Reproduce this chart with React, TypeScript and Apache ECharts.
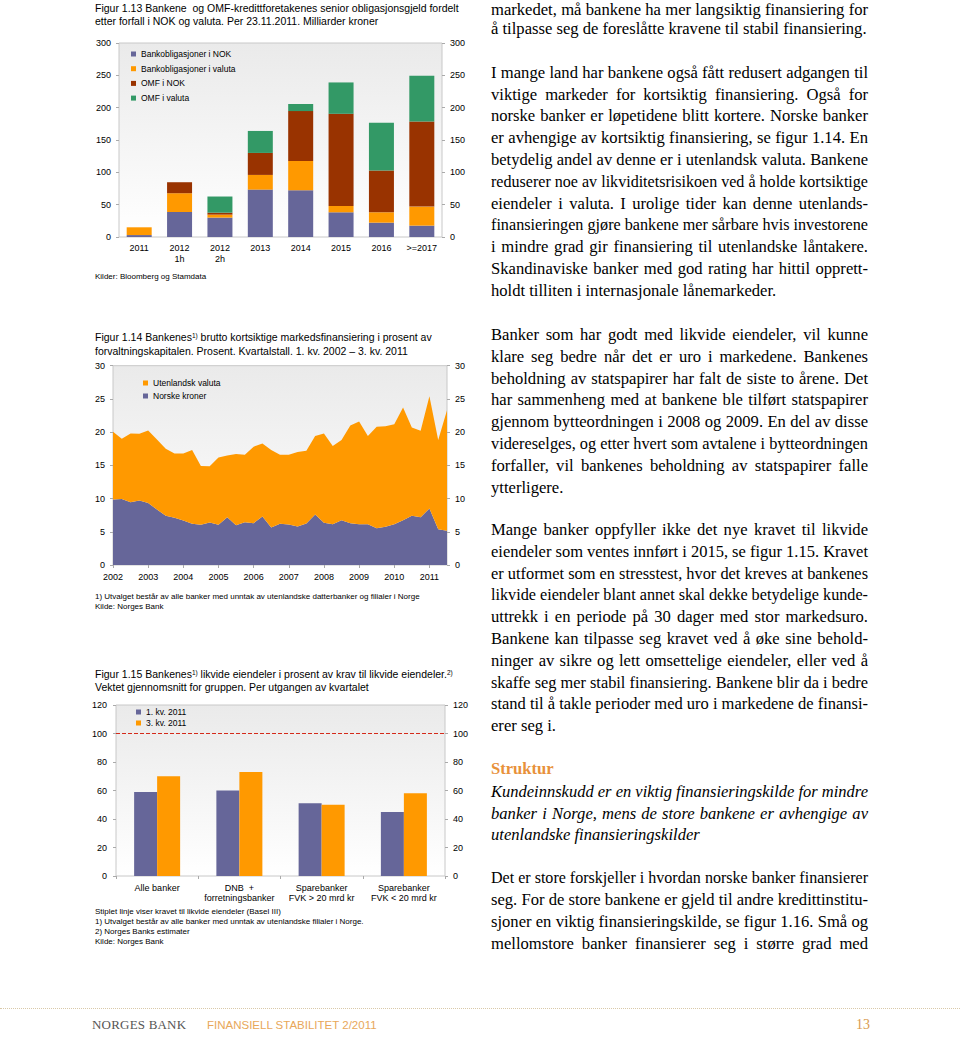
import React, { useEffect, useLayoutEffect, useRef, useState } from "react";
import * as echarts from "echarts";

const FONT = '"Liberation Sans", Arial, sans-serif';
const SERIF = '"Liberation Serif", "Times New Roman", serif';
const PURPLE = "#666699";
const ORANGE = "#ff9900";
const BROWN = "#993300";
const GREEN = "#339966";

// ---------- Figur 1.13 ----------
const maturityCats = ["2011", "2012\n1h", "2012\n2h", "2013", "2014", "2015", "2016", ">=2017"];
const bankNok = [3, 38.7, 30, 73.3, 72.3, 38.2, 22.2, 17.6];
const bankVal = [12, 29, 4.6, 22.7, 45.4, 9.8, 16, 29.4];
const omfNok = [0, 17, 3, 34, 77, 142.5, 64.5, 131.6];
const omfVal = [0, 0, 25, 34, 11, 48.5, 74, 70.8];
const names113 = ["Bankobligasjoner i NOK", "Bankobligasjoner i valuta", "OMF i NOK", "OMF i valuta"];

// ---------- Figur 1.14 ----------
const quarters = [
  "2002", "2002 2", "2002 3", "2002 4",
  "2003", "2003 2", "2003 3", "2003 4",
  "2004", "2004 2", "2004 3", "2004 4",
  "2005", "2005 2", "2005 3", "2005 4",
  "2006", "2006 2", "2006 3", "2006 4",
  "2007", "2007 2", "2007 3", "2007 4",
  "2008", "2008 2", "2008 3", "2008 4",
  "2009", "2009 2", "2009 3", "2009 4",
  "2010", "2010 2", "2010 3", "2010 4",
  "2011", "2011 2", "2011 3",
];
const norskeKroner = [
  9.85, 9.95, 9.45, 9.7, 9.35, 8.35, 7.4, 7.1, 6.7, 6.2,
  6.05, 6.4, 6.05, 7.2, 6.0, 6.45, 6.3, 7.3, 5.65, 6.2,
  6.1, 5.8, 6.25, 7.6, 6.35, 6.15, 6.75, 6.3, 6.15, 6.15,
  5.55, 5.75, 6.15, 6.75, 7.4, 7.2, 8.5, 5.4, 5.15,
];
const utenlandskValuta = [
  10.2, 9.05, 10.35, 10.05, 10.9, 10.55, 10.1, 9.7, 10.1, 11.1,
  8.85, 8.45, 10.15, 9.3, 10.7, 10.15, 11.5, 11.0, 11.65, 10.4,
  10.5, 11.2, 10.95, 11.8, 13.45, 11.75, 12.05, 14.7, 15.45, 13.25,
  15.25, 15.15, 15.05, 16.95, 13.3, 13.0, 16.9, 13.4, 18.15,
];

// ---------- Figur 1.15 ----------
const bankGroups = ["Alle banker", "DNB  +\nforretningsbanker", "Sparebanker\nFVK > 20 mrd kr", "Sparebanker\nFVK < 20 mrd kr"];
const kv1 = [59, 60, 51, 45];
const kv3 = [70, 73, 50, 58];
const requirement = 100;

const plotBg = () =>
  new echarts.graphic.LinearGradient(0, 0, 0, 1, [
    { offset: 0, color: "#eaeaea" },
    { offset: 1, color: "#ffffff" },
  ]);

const txt = (x: number, y: number, text: string, size: number, extra: any = {}) => ({
  type: "text",
  x,
  y,
  silent: true,
  style: {
    text,
    font: `${size}px ${FONT}`,
    fill: "#000",
    verticalAlign: "middle",
    rich: { sup: { fontSize: 6.5, fontFamily: FONT, verticalAlign: "top", fill: "#000" } },
    ...extra,
  },
});

const valueAxis = (max: number, interval: number, position: "left" | "right", margin: number) => ({
  type: "value",
  min: 0,
  max,
  interval,
  position,
  axisLabel: { fontSize: 9, color: "#000", margin, fontFamily: FONT },
  axisLine: { show: false },
  axisTick: { show: true, length: 3, lineStyle: { color: "#aaa" } },
  splitLine: { show: false },
});

const legendBase = {
  orient: "vertical",
  padding: 0,
  itemWidth: 5,
  itemHeight: 5,
  icon: "rect",
  textStyle: { fontSize: 8.5, lineHeight: 10, color: "#000", fontFamily: FONT },
};

function Chart({ build, style }: { build: () => any; style: React.CSSProperties }) {
  const ref = useRef<HTMLDivElement>(null);
  useEffect(() => {
    if (!ref.current) return;
    const chart = echarts.init(ref.current, undefined, { renderer: "svg" });
    chart.setOption(build());
    return () => chart.dispose();
  }, []);
  return <div ref={ref} style={{ position: "absolute", ...style }} />;
}

const build113 = () => ({
  animation: false,
  textStyle: { fontFamily: FONT },
  graphic: [
    txt(95, 8, "Figur 1.13 Bankene  og OMF-kredittforetakenes senior obligasjonsgjeld fordelt", 10.5),
    txt(95, 21, "etter forfall i NOK og valuta. Per 23.11.2011. Milliarder kroner", 10.5),
    txt(95, 276, "Kilder: Bloomberg og Stamdata", 8),
  ],
  legend: { ...legendBase, left: 131, top: 49, itemGap: 4.7, data: names113 },
  grid: { left: 119, right: 38, top: 43, bottom: 53, show: true, borderColor: "#c8c8c8", borderWidth: 1, backgroundColor: plotBg() },
  xAxis: {
    type: "category",
    data: maturityCats,
    axisLine: { show: false },
    axisTick: { show: false },
    axisLabel: { fontSize: 9, color: "#000", margin: 5.5, lineHeight: 11, fontFamily: FONT, interval: 0 },
  },
  yAxis: [valueAxis(300, 50, "left", 8), valueAxis(300, 50, "right", 8)],
  series: [
    { name: names113[0], type: "bar", stack: "a", barWidth: 25, data: bankNok, itemStyle: { color: PURPLE } },
    { name: names113[1], type: "bar", stack: "a", barWidth: 25, data: bankVal, itemStyle: { color: ORANGE } },
    { name: names113[2], type: "bar", stack: "a", barWidth: 25, data: omfNok, itemStyle: { color: BROWN } },
    { name: names113[3], type: "bar", stack: "a", barWidth: 25, data: omfVal, itemStyle: { color: GREEN } },
  ],
});

const build114 = () => ({
  animation: false,
  textStyle: { fontFamily: FONT },
  graphic: [
    txt(95, 17, "Figur 1.14 Bankenes{sup|1)} brutto kortsiktige markedsfinansiering i prosent av", 10.5),
    txt(95, 31, "forvaltningskapitalen. Prosent. Kvartalstall. 1. kv. 2002 – 3. kv. 2011", 10.5),
    txt(95, 276, "1) Utvalget består av alle banker med unntak av utenlandske datterbanker og filialer i Norge", 8),
    txt(95, 286, "Kilde: Norges Bank", 8),
  ],
  legend: { ...legendBase, left: 143, top: 58, itemGap: 3, data: ["Utenlandsk valuta", "Norske kroner"] },
  grid: { left: 113, right: 33, top: 45.7, bottom: 50, show: true, borderColor: "#c8c8c8", borderWidth: 1, backgroundColor: plotBg() },
  xAxis: {
    type: "category",
    data: quarters,
    boundaryGap: false,
    axisLine: { show: false },
    axisTick: { show: true, length: 3, interval: (i: number) => i % 4 === 0, lineStyle: { color: "#aaa" } },
    axisLabel: {
      fontSize: 9,
      color: "#000",
      margin: 6.5,
      lineHeight: 11,
      fontFamily: FONT,
      interval: (i: number) => i % 4 === 0,
      formatter: (v: string) => v.slice(0, 4),
    },
  },
  yAxis: [valueAxis(30, 5, "left", 8), valueAxis(30, 5, "right", 8)],
  series: [
    {
      name: "Norske kroner",
      type: "line",
      stack: "a",
      data: norskeKroner,
      symbol: "none",
      lineStyle: { width: 0 },
      itemStyle: { color: PURPLE },
      areaStyle: { color: PURPLE, opacity: 1 },
    },
    {
      name: "Utenlandsk valuta",
      type: "line",
      stack: "a",
      data: utenlandskValuta,
      symbol: "none",
      lineStyle: { width: 0 },
      itemStyle: { color: ORANGE },
      areaStyle: { color: ORANGE, opacity: 1 },
    },
  ],
});

const build115 = () => ({
  animation: false,
  textStyle: { fontFamily: FONT },
  graphic: [
    txt(95, 14, "Figur 1.15 Bankenes{sup|1)} likvide eiendeler i prosent av krav til likvide eiendeler.{sup|2)}", 10.5),
    txt(95, 27, "Vektet gjennomsnitt for gruppen. Per utgangen av kvartalet", 10.5),
    txt(95, 251, "Stiplet linje viser kravet til likvide eiendeler (Basel III)", 8),
    txt(95, 261, "1) Utvalget består av alle banker med unntak av utenlandske filialer i Norge.", 8),
    txt(95, 271, "2) Norges Banks estimater", 8),
    txt(95, 281, "Kilde: Norges Bank", 8),
  ],
  legend: { ...legendBase, left: 136, top: 47, itemGap: 1, data: ["1. kv. 2011", "3. kv. 2011"] },
  grid: { left: 116, right: 35, top: 45, bottom: 74, show: true, borderColor: "#c8c8c8", borderWidth: 1, backgroundColor: plotBg() },
  xAxis: {
    type: "category",
    data: bankGroups,
    axisLine: { show: false },
    axisTick: { show: true, length: 3, lineStyle: { color: "#aaa" } },
    axisLabel: { fontSize: 9, color: "#000", margin: 6.3, lineHeight: 10.7, fontFamily: FONT, interval: 0 },
  },
  yAxis: [valueAxis(120, 20, "left", 9), valueAxis(120, 20, "right", 8)],
  series: [
    {
      name: "1. kv. 2011",
      type: "bar",
      barWidth: 23,
      barGap: "0%",
      data: kv1,
      itemStyle: { color: PURPLE },
      markLine: {
        silent: true,
        symbol: "none",
        label: { show: false },
        lineStyle: { color: "#d42a1a", type: "dashed", width: 1 },
        data: [{ yAxis: requirement }],
      },
    },
    { name: "3. kv. 2011", type: "bar", barWidth: 23, barGap: "0%", data: kv3, itemStyle: { color: ORANGE } },
  ],
});

// ---------- Right column text ----------
type Para = { center: number; firstCenter?: number; lines: string[]; last?: boolean; italic?: boolean };
const paragraphs: Para[] = [
  {
    center: 7.3,
    firstCenter: 9.8,
    lines: ["markedet, må bankene ha mer langsiktig finansiering for", "å tilpasse seg de foreslåtte kravene til stabil finansiering."],
    last: true,
  },
  {
    center: 72.7,
    lines: [
      "I mange land har bankene også fått redusert adgangen til",
      "viktige markeder for kortsiktig finansiering. Også for",
      "norske banker er løpetidene blitt kortere. Norske banker",
      "er avhengige av kortsiktig finansiering, se figur 1.14. En",
      "betydelig andel av denne er i utenlandsk valuta. Bankene",
      "reduserer noe av likviditetsrisikoen ved å holde kortsiktige",
      "eiendeler i valuta. I urolige tider kan denne utenlands-",
      "finansieringen gjøre bankene mer sårbare hvis investorene",
      "i mindre grad gir finansiering til utenlandske låntakere.",
      "Skandinaviske banker med god rating har hittil opprett-",
      "holdt tilliten i internasjonale lånemarkeder.",
    ],
    last: true,
  },
  {
    center: 335,
    lines: [
      "Banker som har godt med likvide eiendeler, vil kunne",
      "klare seg bedre når det er uro i markedene. Bankenes",
      "beholdning av statspapirer har falt de siste to årene. Det",
      "har sammenheng med at bankene ble tilført statspapirer",
      "gjennom bytteordningen i 2008 og 2009. En del av disse",
      "videreselges, og etter hvert som avtalene i bytteordningen",
      "forfaller, vil bankenes beholdning av statspapirer falle",
      "ytterligere.",
    ],
    last: true,
  },
  {
    center: 530,
    lines: [
      "Mange banker oppfyller ikke det nye kravet til likvide",
      "eiendeler som ventes innført i 2015, se figur 1.15. Kravet",
      "er utformet som en stresstest, hvor det kreves at bankenes",
      "likvide eiendeler blant annet skal dekke betydelige kunde-",
      "uttrekk i en periode på 30 dager med stor markedsuro.",
      "Bankene kan tilpasse seg kravet ved å øke sine behold-",
      "ninger av sikre og lett omsettelige eiendeler, eller ved å",
      "skaffe seg mer stabil finansiering. Bankene blir da i bedre",
      "stand til å takle perioder med uro i markedene de finansi-",
      "erer seg i.",
    ],
    last: true,
  },
  {
    center: 791.7,
    italic: true,
    lines: [
      "Kundeinnskudd er en viktig finansieringskilde for mindre",
      "banker i Norge, mens de store bankene er avhengige av",
      "utenlandske finansieringskilder",
    ],
    last: true,
  },
  {
    center: 878.3,
    lines: [
      "Det er store forskjeller i hvordan norske banker finansierer",
      "seg. For de store bankene er gjeld til andre kredittinstitu-",
      "sjoner en viktig finansieringskilde, se figur 1.16. Små og",
      "mellomstore banker finansierer seg i større grad med",
    ],
    last: false,
  },
];

const LH = 21.8;
const COLW = 377;

function Line({ text, justify, height, lineHeight }: { text: string; justify: boolean; height: number; lineHeight: number }) {
  const ref = useRef<HTMLSpanElement>(null);
  const [scale, setScale] = useState<number | null>(null);
  useLayoutEffect(() => {
    if (!ref.current) return;
    const w = ref.current.getBoundingClientRect().width;
    setScale(w > COLW ? COLW / w : 1);
  }, []);
  const measured = scale !== null;
  const s = scale ?? 1;
  const just = measured && justify;
  return (
    <div
      style={{
        height,
        lineHeight: `${lineHeight}px`,
        whiteSpace: "nowrap",
        width: s < 1 ? COLW / s : COLW,
        textAlign: just ? "justify" : "left",
        textAlignLast: just ? "justify" : "left",
        transform: s < 1 ? `scaleX(${s})` : undefined,
        transformOrigin: "0 0",
      }}
    >
      <span ref={ref}>{text}</span>
    </div>
  );
}

export default function App() {
  return (
    <div
      style={{
        position: "absolute",
        left: 0,
        top: 0,
        width: 960,
        height: 1041,
        overflow: "hidden",
        background: "#fff",
      }}
    >
      <Chart build={build113} style={{ left: 0, top: 0, width: 480, height: 290 }} />
      <Chart build={build114} style={{ left: 0, top: 320, width: 480, height: 295 }} />
      <Chart build={build115} style={{ left: 0, top: 660, width: 480, height: 290 }} />

      {paragraphs.map((p, pi) => {
        const fc = p.firstCenter;
        const top = fc !== undefined ? 0 : p.center - LH / 2;
        const firstH = fc !== undefined ? p.center + LH - LH / 2 : LH;
        const firstLH = fc !== undefined ? 2 * fc : LH;
        return (
          <div
            key={pi}
            style={{
              position: "absolute",
              left: 491,
              top,
              width: COLW,
              fontFamily: SERIF,
              fontSize: 16.6,
              fontStyle: p.italic ? "italic" : "normal",
              color: "#000",
            }}
          >
            {p.lines.map((l, li) => (
              <Line
                key={li}
                text={l}
                justify={!(li === p.lines.length - 1 && p.last)}
                height={li === 0 ? firstH : LH}
                lineHeight={li === 0 ? firstLH : LH}
              />
            ))}
          </div>
        );
      })}

      <div
        style={{
          position: "absolute",
          left: 491,
          top: 769.3 - LH / 2,
          lineHeight: `${LH}px`,
          fontFamily: SERIF,
          fontWeight: "bold",
          fontSize: 16.6,
          color: "#e8913a",
        }}
      >
        Struktur
      </div>

      <div
        style={{
          position: "absolute",
          left: 0,
          top: 1008,
          width: 960,
          borderTop: "1px dotted #d9c9a9",
        }}
      />
      <div
        style={{
          position: "absolute",
          left: 92,
          top: 1017,
          lineHeight: "16px",
          fontFamily: SERIF,
          fontSize: 13,
          color: "#555",
          letterSpacing: 0.2,
        }}
      >
        NORGES BANK
      </div>
      <div
        style={{
          position: "absolute",
          left: 207,
          top: 1017,
          lineHeight: "16px",
          fontFamily: FONT,
          fontSize: 11.5,
          color: "#e8a75a",
        }}
      >
        FINANSIELL STABILITET 2/2011
      </div>
      <div
        style={{
          position: "absolute",
          left: 856,
          top: 1017,
          lineHeight: "16px",
          fontFamily: SERIF,
          fontSize: 14,
          color: "#d99a4e",
        }}
      >
        13
      </div>
    </div>
  );
}
